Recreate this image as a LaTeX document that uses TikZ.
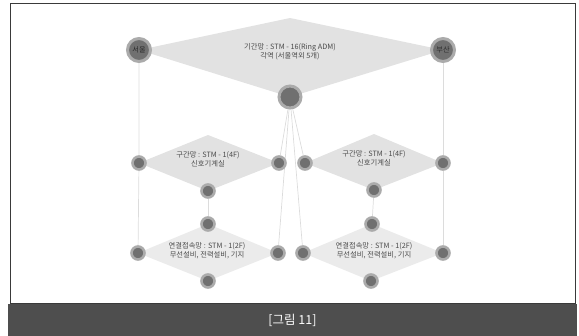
\documentclass[tikz,border=0pt]{standalone}
\usepackage{fontspec}
\setmainfont{Noto Sans CJK KR}
\usepackage{tikz}
\usetikzlibrary{positioning,backgrounds}
\definecolor{frm}{HTML}{3A3A3A}
\definecolor{bar}{HTML}{4E4E4E}
\definecolor{core}{HTML}{707070}
\definecolor{halo}{HTML}{ABABAB}
\definecolor{wire}{HTML}{DCDCDC}
\definecolor{dia}{HTML}{E2E2E2}
\definecolor{dia2}{HTML}{EBEBEB}
\definecolor{ink}{HTML}{4A4A4A}
\tikzset{
  dot/.style={circle,fill=core,draw=halo,line width=2.6pt,minimum size=13pt,inner sep=0pt},
  city/.style={dot,minimum size=23pt,line width=3pt,font=\fontsize{7.2}{7.2}\selectfont,text=ink!60!black},
  hub/.style={dot,minimum size=22pt,line width=3pt},
  lab/.style={font=\fontsize{7.3}{9}\selectfont,text=ink,align=center,inner sep=0pt},
  wire/.style={draw=wire,line width=0.7pt},
}

\begin{document}
\begin{tikzpicture}[x=1pt,y=-1pt]
\useasboundingbox (0,0) rectangle (579,336);
% frame and caption bar
\draw[frm,line width=1pt] (10,4) rectangle (575,304);
\fill[bar] (8,304) rectangle (577,336);
\node[text=white,font=\fontsize{12.5}{13}\selectfont] (cap) at (292.5,320) {[그림 11]};

% backbone
\node[city] (seoul) at (139,50) {서울};
\node[city] (busan) at (443,50) {부산};
\node[hub] (hub) at (290,97) {};
\coordinate (ttop) at (290,18);
\node[lab] (tlab) at (290,52) {기간망 : STM - 16(Ring ADM)\\각역 (서울역외 5개)};

% section level
\node[dot] (ml) at (139,163) {};
\node[dot] (mr) at (279,163) {};
\node[dot] (mb) at (208,191) {};
\coordinate (mt) at (208,135);
\node[lab] (mlab) at (208,159) {구간망 : STM - 1(4F)\\신호기계실};
\node[dot] (nl) at (305,163) {};
\node[dot] (nr) at (443,163) {};
\node[dot] (nb) at (374,190) {};
\coordinate (nt) at (374,134);
\node[lab] (nlab) at (374,158) {구간망 : STM - 1(4F)\\신호기계실};

% access level
\node[dot] (at) at (208,224) {};
\node[dot] (al) at (138,253) {};
\node[dot] (ar) at (278,253) {};
\node[dot] (ab) at (208,281) {};
\node[lab] (alab) at (207,251) {연결접속망 : STM - 1(2F)\\무선설비, 전력설비, 기지};
\node[dot] (bt) at (372,224) {};
\node[dot] (bl) at (303,253) {};
\node[dot] (br) at (443,253) {};
\node[dot] (bb) at (371,281) {};
\node[lab] (blab) at (374,251) {연결접속망 : STM - 1(2F)\\무선설비, 전력설비, 기지};

\begin{scope}[on background layer]
\fill[dia] (seoul.center) -- (ttop) -- (busan.center) -- (hub.center) -- cycle;
\fill[dia] (ml.center) -- (mt) -- (mr.center) -- (mb.center) -- cycle;
\fill[dia] (nl.center) -- (nt) -- (nr.center) -- (nb.center) -- cycle;
\fill[dia2] (al.center) -- (at.center) -- (ar.center) -- (ab.center) -- cycle;
\fill[dia2] (bl.center) -- (bt.center) -- (br.center) -- (bb.center) -- cycle;
\draw[wire] (seoul) -- (ml) -- (al);
\draw[wire] (busan) -- (nr) -- (br);
\draw[wire] (hub) -- (mr); \draw[wire] (hub) -- (nl);
\draw[wire] (hub) -- (ar); \draw[wire] (hub) -- (bl);
\draw[wire] (mb) -- (at); \draw[wire] (nb) -- (bt);
\end{scope}
\end{tikzpicture}
\end{document}
